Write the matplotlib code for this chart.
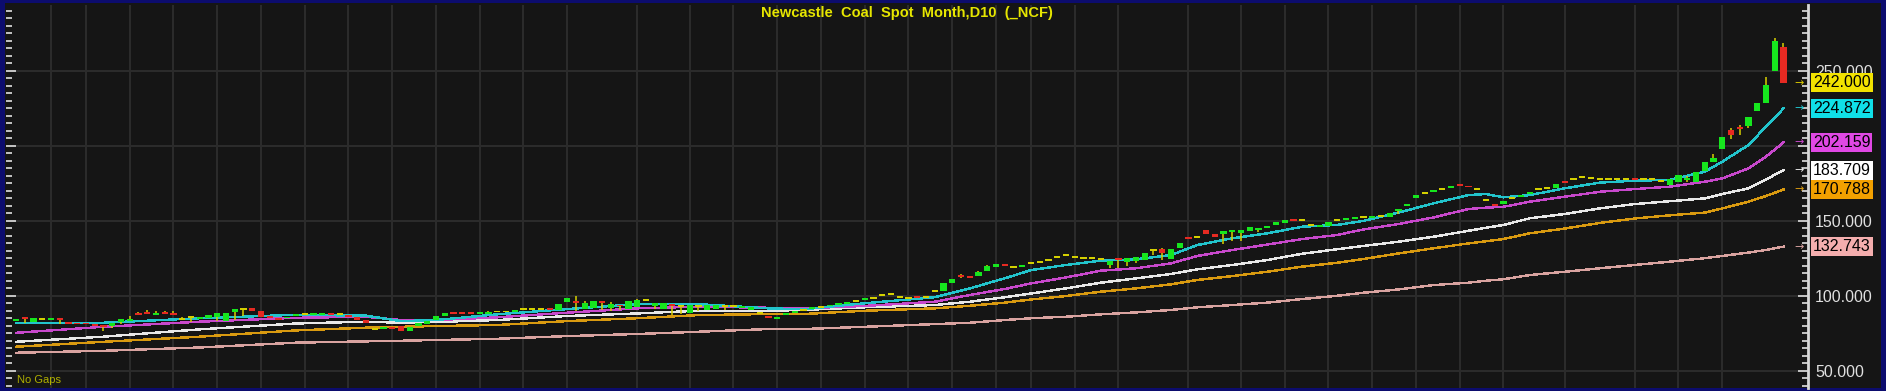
import matplotlib
matplotlib.use("Agg")
import matplotlib.pyplot as plt
import matplotlib.transforms as mtransforms
from matplotlib.patches import Rectangle
from matplotlib.ticker import MultipleLocator, FuncFormatter

plt.rcParams['font.family'] = ['Liberation Sans', 'DejaVu Sans']

TITLE = "Newcastle  Coal  Spot  Month,D10  (_NCF)"

# candle bodies, one pair per 10-day bar
opens = [
    83.6, 85.0, 82.3, 84.2, 83.8, 85.0, 82.5, 82.0, 82.0, 81.0,
    80.3, 80.0, 82.7, 83.0, 88.0, 88.9, 87.3, 89.0, 88.0, 84.8,
    85.6, 84.5, 85.3, 86.0, 83.3, 89.0, 91.0, 91.5, 89.5, 86.5,
    85.0, 85.0, 87.0, 87.8, 87.2, 87.3, 88.0, 87.8, 87.0, 85.8,
    83.5, 78.0, 78.2, 79.0, 79.5, 76.5, 79.8, 81.0, 83.8, 86.4,
    89.0, 88.7, 88.7, 87.8, 88.0, 89.5, 89.5, 89.5, 91.1, 91.1,
    91.1, 91.5, 90.5, 95.6, 96.5, 91.0, 91.6, 96.5, 91.6, 94.0,
    91.0, 92.5, 97.2, 93.2, 91.0, 94.0, 93.0, 88.3, 93.4, 90.8,
    91.0, 93.4, 93.0, 92.2, 90.5, 88.2, 86.5, 84.7, 86.9, 88.8,
    90.5, 91.4, 92.7, 93.2, 94.0, 95.0, 96.2, 97.4, 98.6, 100.2,
    101.1, 99.4, 98.3, 99.6, 99.4, 103.0, 103.1, 108.2, 113.8, 112.9,
    113.1, 116.7, 119.2, 121.0, 119.4, 119.4, 121.6, 122.7, 123.8, 126.0,
    126.9, 126.0, 125.1, 125.1, 124.5, 120.5, 124.6, 122.3, 123.0, 123.8,
    130.7, 131.3, 124.2, 131.6, 138.6, 139.3, 143.8, 141.2, 141.1, 142.7,
    142.0, 143.1, 144.0, 145.6, 147.3, 148.5, 150.4, 150.2, 147.2, 146.7,
    146.8, 150.2, 150.9, 151.8, 152.7, 152.3, 153.0, 152.2, 156.4, 160.2,
    165.0, 168.2, 169.2, 171.3, 172.5, 174.0, 173.4, 171.2, 163.8, 161.0,
    161.3, 164.9, 165.8, 168.5, 171.3, 172.0, 171.6, 176.5, 178.0, 179.3,
    178.5, 178.0, 178.0, 178.0, 178.0, 178.4, 177.5, 177.5, 176.5, 173.8,
    176.0, 177.8, 176.0, 183.3, 189.3, 197.6, 210.5, 212.3, 213.1, 223.4,
    228.7, 250.0, 265.6,
]
closes = [
    84.6, 84.7, 85.3, 84.2, 85.0, 84.0, 81.4, 81.0, 81.0, 80.0,
    79.8, 81.6, 84.2, 84.5, 87.1, 87.6, 88.6, 88.0, 87.2, 84.8,
    85.6, 85.5, 87.0, 88.2, 88.7, 91.2, 91.0, 90.0, 85.6, 85.5,
    83.5, 86.0, 87.8, 87.8, 87.9, 88.0, 87.6, 87.8, 86.0, 84.0,
    81.5, 78.0, 79.0, 78.4, 76.5, 79.3, 81.6, 83.0, 86.4, 88.2,
    88.3, 87.8, 87.8, 88.7, 89.0, 89.5, 89.5, 90.4, 91.1, 91.1,
    91.1, 90.4, 94.4, 98.7, 95.0, 95.4, 96.3, 95.0, 94.4, 93.0,
    96.5, 97.2, 97.2, 95.0, 95.0, 93.6, 93.0, 93.8, 93.4, 93.8,
    93.5, 93.4, 93.0, 93.0, 92.7, 88.2, 85.6, 86.0, 88.2, 89.3,
    90.5, 91.9, 92.7, 93.8, 94.6, 95.8, 96.2, 97.8, 98.6, 100.2,
    101.1, 99.4, 98.3, 99.2, 99.4, 103.0, 108.2, 111.2, 112.4, 112.5,
    115.6, 119.8, 121.2, 120.4, 119.4, 120.5, 121.6, 122.7, 123.8, 126.0,
    126.9, 126.0, 125.1, 125.1, 124.5, 123.2, 124.3, 125.0, 125.7, 128.7,
    130.7, 128.4, 131.1, 135.3, 138.0, 139.3, 141.0, 139.0, 143.1, 143.8,
    143.5, 145.8, 145.0, 146.0, 149.0, 150.7, 150.0, 150.2, 147.2, 146.9,
    149.0, 150.2, 151.3, 152.2, 152.7, 152.7, 153.0, 155.0, 157.5, 161.2,
    167.3, 168.2, 169.8, 171.3, 173.0, 173.6, 172.2, 171.2, 163.8, 159.6,
    163.0, 164.9, 167.0, 169.0, 171.3, 172.0, 174.5, 174.9, 178.0, 179.3,
    178.5, 178.0, 178.0, 178.0, 178.0, 177.2, 177.5, 177.5, 176.5, 177.5,
    180.5, 178.4, 182.7, 189.3, 191.6, 205.6, 207.1, 211.0, 218.9, 228.7,
    240.5, 270.0, 242.0,
]
# visible wicks beyond the body
wick_hi = {13: 86.5, 14: 88.9, 15: 90.5, 16: 89.5, 17: 90.0, 18: 89.8, 19: 86.0,
           54: 89.8, 64: 99.8, 65: 96.5, 68: 95.5, 71: 98.0, 76: 94.0, 108: 114.5,
           110: 116.5, 111: 120.5, 131: 132.0, 158: 158.0, 162: 170.5, 191: 180.0,
           194: 194.5, 196: 212.0, 197: 214.0, 200: 245.6, 201: 271.6, 202: 268.7}
wick_lo = {1: 82.0, 5: 81.0, 10: 76.7, 11: 78.5, 12: 81.0, 19: 83.5, 20: 82.5,
           23: 83.0, 25: 84.0, 26: 86.5, 64: 89.5, 67: 90.5, 68: 89.5, 69: 90.5,
           73: 91.0, 75: 87.3, 76: 87.5, 78: 89.5, 81: 90.5, 108: 111.5, 125: 118.3,
           126: 118.8, 127: 119.5, 128: 121.5, 130: 127.0, 131: 123.5, 138: 134.5,
           139: 136.7, 140: 136.5, 142: 142.7, 158: 154.3, 191: 176.0, 196: 204.5,
           197: 207.0, 198: 211.5}

# moving averages, sampled at these bars
ma_bars = [0, 10, 21, 32, 40, 44, 48, 55, 63, 71, 78, 86, 90, 97, 105, 109, 113,
           116, 120, 124, 128, 132, 135, 139, 143, 147, 151, 154, 158, 162, 166,
           168, 170, 173, 177, 181, 185, 189, 193, 195, 198, 200, 202]
ma_cyan = [82.0, 82.0, 85.0, 87.3, 86.7, 83.1, 83.8, 87.6, 91.1, 94.4, 94.4, 91.6,
           91.0, 95.0, 99.0, 104.9, 111.6, 117.1, 120.5, 123.4, 124.3, 127.1, 133.8,
           138.3, 141.6, 146.0, 147.2, 149.9, 155.4, 161.6, 167.1, 167.8, 165.6,
           167.1, 171.6, 175.4, 176.7, 177.2, 182.7, 189.3, 200.5, 212.7, 224.872]
ma_magenta = [75.3, 79.3, 82.7, 85.3, 86.0, 83.8, 83.8, 85.6, 88.7, 91.6, 92.7, 92.0,
              91.6, 93.2, 96.0, 100.5, 104.5, 108.2, 112.2, 116.7, 118.3, 121.6, 126.5,
              130.5, 134.1, 137.8, 140.5, 144.2, 147.8, 152.2, 157.8, 158.7, 159.3,
              162.7, 166.0, 169.3, 171.1, 172.7, 176.0, 178.2, 184.9, 192.7, 202.159]
ma_white = [69.3, 72.7, 77.6, 81.5, 82.7, 82.0, 82.5, 83.8, 86.5, 88.2, 90.0, 90.0,
            90.5, 92.3, 93.8, 96.0, 99.0, 101.5, 104.9, 108.7, 111.6, 114.5, 117.6,
            120.5, 123.8, 128.0, 131.0, 133.2, 136.0, 139.3, 143.3, 145.3, 147.2,
            151.6, 154.5, 158.2, 161.1, 163.0, 164.9, 167.8, 171.6, 177.5, 183.709]
ma_orange = [66.0, 69.3, 72.7, 76.9, 78.7, 79.3, 79.8, 80.5, 83.1, 85.0, 87.1, 87.8,
             87.8, 90.0, 91.6, 93.3, 95.4, 97.5, 99.8, 102.7, 104.9, 107.6, 110.5,
             113.1, 116.0, 119.4, 122.0, 124.5, 128.2, 131.6, 134.9, 136.3, 137.8,
             141.6, 144.8, 148.5, 151.5, 153.6, 155.4, 158.2, 162.7, 166.5, 170.788]
ma_pink = [62.0, 63.3, 65.5, 68.7, 69.6, 70.0, 70.5, 71.3, 73.1, 74.5, 76.0, 77.8,
           77.8, 79.3, 81.1, 82.0, 83.8, 85.0, 86.0, 87.6, 88.9, 90.5, 92.3, 93.8,
           95.4, 97.8, 100.0, 102.0, 104.2, 107.1, 108.7, 110.0, 111.0, 113.8, 116.0,
           118.3, 120.5, 122.7, 125.0, 126.5, 128.8, 130.5, 132.743]

# vertical date grid (bar index of each line) and price grid levels
grid_bars = [4, 8, 13, 18, 23, 28, 33, 38, 43, 48, 53, 58, 63, 71, 77, 82, 87, 92,
             97, 102, 107, 112, 116, 121, 126, 134, 140, 145, 150, 155, 160, 165,
             170, 177, 185, 190, 195]
grid_levels = [50, 100, 150, 200, 250]

BG = '#151515'
GRID = '#2b2b2b'
UP, DOWN, DOJI, WICK = '#16e61e', '#e62a22', '#d4d000', '#d8d000'

W, H = 1886, 391
fig = plt.figure(figsize=(W / 100, H / 100), dpi=100, facecolor='#0c0c6e')
fig.patches.append(Rectangle((5 / W, 3 / H), 1876 / W, 385 / H,
                             transform=fig.transFigure, facecolor=BG,
                             edgecolor='none', zorder=-5))
ax = fig.add_axes([6 / W, 3 / H, 1802 / W, 383 / H])
ax.set_facecolor(BG)

n = len(closes)
ax.set_xlim(-1.14, 204.8)
ax.set_ylim(38.5, 293.8)

for b in grid_bars:
    ax.axvline(b, color=GRID, lw=1.5, zorder=0)
for lv in grid_levels:
    ax.axhline(lv, color=GRID, lw=1.5, zorder=0)

# moving averages
for vals, col in [(ma_pink, '#d9a3a0'), (ma_orange, '#d99a10'),
                  (ma_white, '#e8e8e8'), (ma_magenta, '#c848cc'),
                  (ma_cyan, '#22c4cc')]:
    ax.plot(ma_bars, vals, color=col, lw=1.0, antialiased=False, zorder=2)

# candles
for i in range(n):
    o, c = opens[i], closes[i]
    hi = max(o, c, wick_hi.get(i, 0))
    lo = min(o, c, wick_lo.get(i, 1e9))
    if c > o:
        col = UP
    elif c < o:
        col = DOWN
    else:
        col = DOJI
    if hi > max(o, c) or lo < min(o, c):
        ax.vlines(i, lo, hi, color=WICK, lw=1.1, zorder=3)
    h = max(abs(c - o), 1.3)
    mid = (o + c) / 2
    ax.bar(i, h, bottom=mid - h / 2, width=0.72, color=col, lw=0, zorder=4)

# axes styling
for s in ['left', 'top', 'bottom']:
    ax.spines[s].set_visible(False)
ax.spines['right'].set_color('#d8d8d8')
ax.spines['right'].set_linewidth(2)
ax.set_xticks([])
ax.yaxis.set_major_locator(MultipleLocator(50))
ax.yaxis.set_minor_locator(MultipleLocator(5))
ax.yaxis.set_major_formatter(FuncFormatter(lambda v, p: f"{v:.3f}"))
ax.tick_params(axis='y', which='both', direction='in', left=True, right=True,
               labelleft=False, labelright=True, colors='#e0e0e0')
ax.tick_params(axis='y', which='major', length=7, width=1.2, pad=5, labelsize=11.5)
ax.tick_params(axis='y', which='minor', length=4, width=1.2)

# last value tags
tr = mtransforms.blended_transform_factory(ax.transAxes, ax.transData)
tags = [(closes[-1], '#f2e200', '#d8c800'),
        (ma_cyan[-1], '#10e0e8', '#22c4cc'),
        (ma_magenta[-1], '#e048e4', '#c848cc'),
        (ma_white[-1], '#ffffff', '#e8e8e8'),
        (ma_orange[-1], '#f2a000', '#d99a10'),
        (ma_pink[-1], '#f4aeae', '#d9a3a0')]
xt = 1 + 5 / 1802
for val, box, arr in tags:
    ax.text(xt, val, f"{val:.3f}", transform=tr, ha='left', va='center',
            fontsize=11.5, color='black', clip_on=False, zorder=6,
            bbox=dict(boxstyle='square,pad=0.12', fc=box, ec='none'))
    ax.text(1 - 4 / 1802, val, "\u2192", transform=tr, ha='right', va='center',
            fontsize=8, color=arr, clip_on=False, zorder=6,
            family=['DejaVu Sans'])

ax.text(0.5, 1 - 8 / 383, TITLE, transform=ax.transAxes, ha='center', va='center',
        fontsize=10.5, fontweight='bold', color='#e6e600')
ax.text(11 / 1802, 8 / 383, "No Gaps", transform=ax.transAxes, ha='left',
        va='center', fontsize=8, color='#b0b000')

fig.savefig('out.png', dpi=100, facecolor=fig.get_facecolor())
